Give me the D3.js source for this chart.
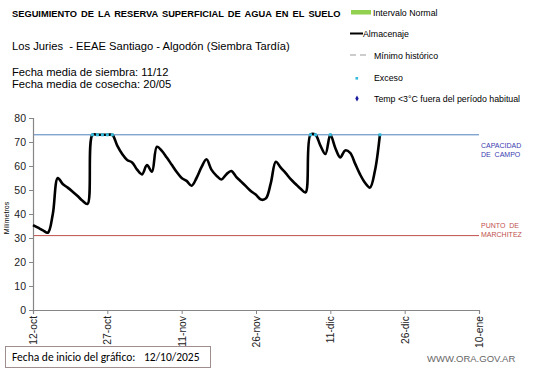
<!DOCTYPE html>
<html>
<head>
<meta charset="utf-8">
<script src="https://cdn.jsdelivr.net/npm/d3@7"></script>
<style>
html,body{margin:0;padding:0;background:#fff;}
svg{display:block;font-family:"Liberation Sans",Arial,sans-serif;}
</style>
</head>
<body>
<svg id="chart" width="541" height="368"></svg>
<script>
// ---- data ----
const startDate = "12/10/2025";
const tickDays = [0, 15, 30, 45, 60, 75, 90];
const tickLabels = ["12-oct", "27-oct", "11-nov", "26-nov", "11-dic", "26-dic", "10-ene"];
const yTicks = [0, 10, 20, 30, 40, 50, 60, 70, 80];
const storage = [35.4, 34.3, 33.2, 32.2, 40, 55, 52.5, 51, 49.3, 47.5,
  45.5, 44.2, 73, 73, 73, 73, 73, 68.5, 65, 62.5,
  61.5, 58.5, 56.5, 60.4, 57.6, 68, 66.3, 63.5, 60.5, 57.5,
  55, 53.8, 51.8, 55, 59.5, 62.8, 58.5, 56, 54.4, 56.5,
  57.9, 55.5, 53.5, 51.5, 49.5, 48, 46, 46.5, 53, 61.8,
  59.3, 57, 54.5, 52.5, 50.5, 49, 73, 73, 68.5, 65,
  73, 67.5, 63.6, 66.5, 65.5, 61, 56.5, 53, 51, 58, 73];
const excessDays = [12, 13, 14, 15, 16, 56, 57, 60, 70];
const fieldCapacity = 73;
const wiltingPoint = 31;

// ---- layout ----
const svg = d3.select("#chart");
const x = d3.scaleLinear().domain([0, 90]).range([33, 479]);
const y = d3.scaleLinear().domain([0, 80]).range([310, 118]);

// titles
svg.append("text").attr("x", 12).attr("y", 17).attr("font-size", 9.3).attr("font-weight", "bold")
  .attr("word-spacing", 1.5)
  .text("SEGUIMIENTO DE LA RESERVA SUPERFICIAL DE AGUA EN EL SUELO");
svg.append("text").attr("x", 12).attr("y", 50).attr("font-size", 11.2)
  .text("Los Juries  - EEAE Santiago - Algodón (Siembra Tardía)").attr("xml:space", "preserve");
svg.append("text").attr("x", 12).attr("y", 76).attr("font-size", 11.2).text("Fecha media de siembra: 11/12");
svg.append("text").attr("x", 12).attr("y", 88).attr("font-size", 11.2).text("Fecha media de cosecha: 20/05");

// legend
const lg = svg.append("g").attr("font-size", 8.8);
lg.append("rect").attr("x", 351).attr("y", 10).attr("width", 20).attr("height", 4.5).attr("fill", "#92d050");
lg.append("text").attr("x", 373).attr("y", 15.5).text("Intervalo Normal");
lg.append("line").attr("x1", 350).attr("x2", 363).attr("y1", 33.5).attr("y2", 33.5).attr("stroke", "#000").attr("stroke-width", 2);
lg.append("text").attr("x", 363).attr("y", 37).text("Almacenaje");
lg.append("line").attr("x1", 350).attr("x2", 370).attr("y1", 55).attr("y2", 55).attr("stroke", "#999").attr("stroke-width", 1).attr("stroke-dasharray", "6,4");
lg.append("text").attr("x", 374).attr("y", 58.5).text("Mínimo histórico");
lg.append("rect").attr("x", 355.5).attr("y", 77).attr("width", 2.6).attr("height", 2.6).attr("fill", "#33bbdd");
lg.append("text").attr("x", 374).attr("y", 81).text("Exceso");
lg.append("path").attr("d", d3.symbol(d3.symbolDiamond, 10)()).attr("transform", "translate(357,98.5)").attr("fill", "#1a1aa0");
lg.append("text").attr("x", 374).attr("y", 101.5).text("Temp <3°C fuera del período habitual");

// reference lines
svg.append("line").attr("x1", x(0)).attr("x2", x(90)).attr("y1", y(fieldCapacity)).attr("y2", y(fieldCapacity))
  .attr("stroke", "#4f81bd").attr("stroke-width", 1);
svg.append("line").attr("x1", x(0)).attr("x2", x(90)).attr("y1", y(wiltingPoint)).attr("y2", y(wiltingPoint))
  .attr("stroke", "#c0504d").attr("stroke-width", 1);
const rl = svg.append("g").attr("font-size", 7);
rl.append("text").attr("x", 481).attr("y", 148).attr("fill", "#3b3bb0").text("CAPACIDAD");
rl.append("text").attr("x", 481).attr("y", 157).attr("fill", "#3b3bb0").attr("xml:space", "preserve").text("DE  CAMPO");
rl.append("text").attr("x", 481).attr("y", 228).attr("fill", "#c0504d").attr("xml:space", "preserve").text("PUNTO  DE");
rl.append("text").attr("x", 481).attr("y", 237).attr("fill", "#c0504d").text("MARCHITEZ");

// axes
const yAxis = svg.append("g").attr("transform", "translate(33,0)")
  .call(d3.axisLeft(y).tickValues(yTicks).tickSize(4).tickPadding(3));
const xAxis = svg.append("g").attr("transform", "translate(0,310)")
  .call(d3.axisBottom(x).tickValues(tickDays).tickFormat((d, i) => tickLabels[i]).tickSize(4));
[yAxis, xAxis].forEach(a => {
  a.select(".domain").attr("stroke", "#868686").attr("stroke-width", 1.2);
  a.selectAll(".tick line").attr("stroke", "#868686");
  a.selectAll("text").attr("font-family", "Liberation Sans, Arial, sans-serif").attr("fill", "#222");
});
yAxis.selectAll("text").attr("font-size", 10.5);
xAxis.selectAll("text").attr("font-size", 10.3)
  .attr("transform", "rotate(-90)").attr("text-anchor", "end")
  .attr("x", -6).attr("y", 0).attr("dy", "0.35em");

svg.append("text").attr("transform", "translate(9,218) rotate(-90)").attr("text-anchor", "middle")
  .attr("font-size", 7).text("Milímetros");

// storage line
const line = d3.line().x((d, i) => x(i)).y(d => y(d)).curve(d3.curveCatmullRom.alpha(0.5));
svg.append("path").datum(storage).attr("d", line).attr("fill", "none")
  .attr("stroke", "#000").attr("stroke-width", 2.6).attr("stroke-linejoin", "round");

// excess markers
svg.append("g").selectAll("rect").data(excessDays).join("rect")
  .attr("x", d => x(d) - 1.5).attr("y", d => y(storage[d]) - 1.5)
  .attr("width", 3).attr("height", 3).attr("fill", "#33bbdd");

// footer
svg.append("rect").attr("x", 5.5).attr("y", 346.5).attr("width", 205).attr("height", 21)
  .attr("fill", "#fff").attr("stroke", "#9e8e8e").attr("stroke-width", 1);
svg.append("text").attr("x", 12).attr("y", 361).attr("font-size", 11.5)
  .attr("font-family", "Carlito, Calibri, 'Liberation Sans', sans-serif").text("Fecha de inicio del gráfico:");
svg.append("text").attr("x", 144).attr("y", 361).attr("font-size", 11.5)
  .attr("font-family", "Carlito, Calibri, 'Liberation Sans', sans-serif").text(startDate);
svg.append("text").attr("x", 427).attr("y", 362).attr("font-size", 9.5).attr("fill", "#666")
  .text("WWW.ORA.GOV.AR");
</script>
</body>
</html>
